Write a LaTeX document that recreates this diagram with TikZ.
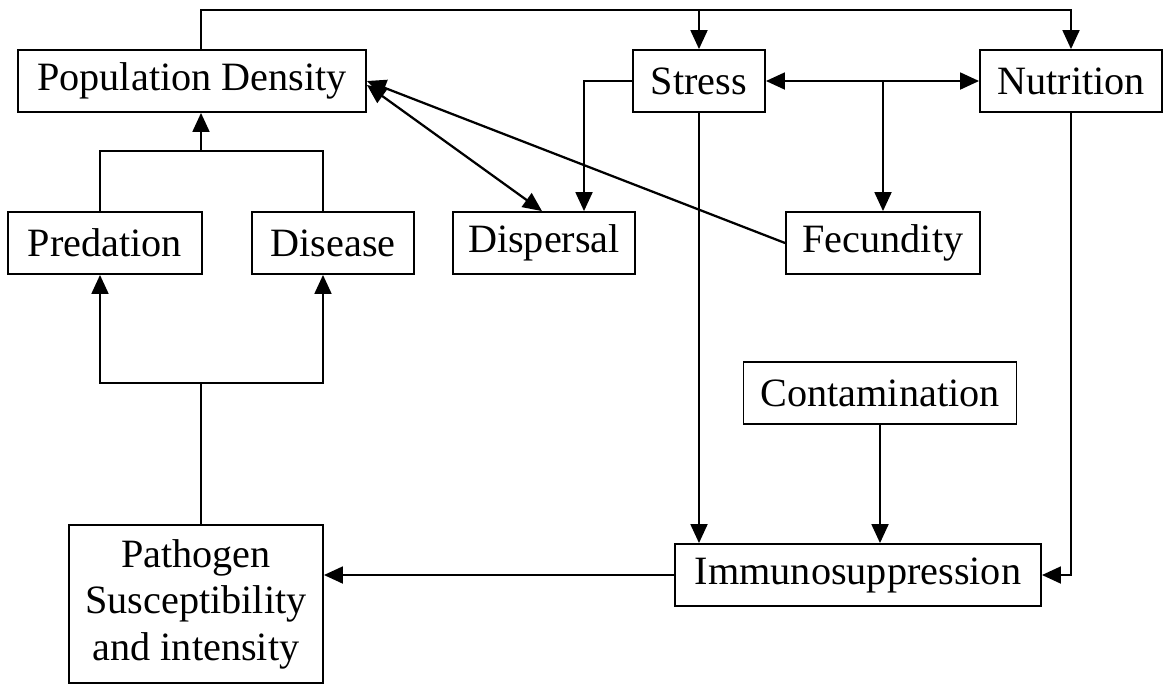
\documentclass[tikz,border=0pt]{standalone}
\usepackage{fontspec}
\setmainfont{Liberation Serif}
\usetikzlibrary{arrows.meta}
\begin{document}
\begin{tikzpicture}[x=0.025cm,y=-0.025cm,line width=1.6pt,font=\fontsize{28.6}{33}\selectfont,
>={Triangle[length=13.5pt,width=12pt]},
box/.style={draw,line width=1.3pt,minimum height=1.55cm,inner sep=0pt,align=center}]
\useasboundingbox(0,0)rectangle(1168,687);
\node[box,minimum width=8.7cm](density)at(192,81){Population Density};
\node[box,minimum width=3.3cm](stress)at(699,81){Stress};
\node[box,minimum width=4.55cm](nutrition)at(1071,81){Nutrition};
\node[box,minimum width=4.85cm](predation)at(105,243){Predation};
\node[box,minimum width=4.05cm](disease)at(333,243){Disease};
\node[box,minimum width=4.55cm](dispersal)at(544,243){Dispersal};
\node[box,minimum width=4.85cm](fecundity)at(883,243){Fecundity};
\node[box,minimum width=6.825cm](contamination)at(880,393){Contamination};
\node[box,minimum width=9.15cm](immuno)at(858,575){Immunosuppression};
\node[box,minimum width=6.35cm,minimum height=3.95cm](pathogen)at(196,604){Pathogen\\Susceptibility\\and intensity};
\coordinate(topbar)at(0,10);
\coordinate(upjoin)at(201,151);
\coordinate(downjoin)at(201,383);
% top row
\draw[->]([xshift=0.225cm]density.north)|-(topbar-|nutrition.north)--(nutrition.north);
\draw[->](stress.north|-topbar)--(stress.north);
\draw[<->](stress.east)--(nutrition.west);
\draw[->](stress.east-|fecundity.north)--(fecundity.north);
\draw[->](stress.west)-|([xshift=1cm]dispersal.north);
\draw[<->]([yshift=-0.1cm]density.east)--([xshift=-0.05cm]dispersal.north);
\draw[->](fecundity.west)--(density.east);
% predation and disease
\draw([xshift=-0.125cm]predation.north)|-(upjoin)-|([xshift=-0.25cm]disease.north);
\draw[->](upjoin)--(density.south-|upjoin);
\draw[->](downjoin)-|([xshift=-0.125cm]predation.south);
\draw[->](downjoin)-|([xshift=-0.25cm]disease.south);
\draw(downjoin)--(pathogen.north-|downjoin);
% immunosuppression
\draw[->](stress.south)--(stress.south|-immuno.north);
\draw[->](contamination.south)--(contamination.south|-immuno.north);
\draw[->](nutrition.south)|-(immuno.east);
\draw[->](immuno.west)--(immuno.west-|pathogen.east);
\end{tikzpicture}
\end{document}
